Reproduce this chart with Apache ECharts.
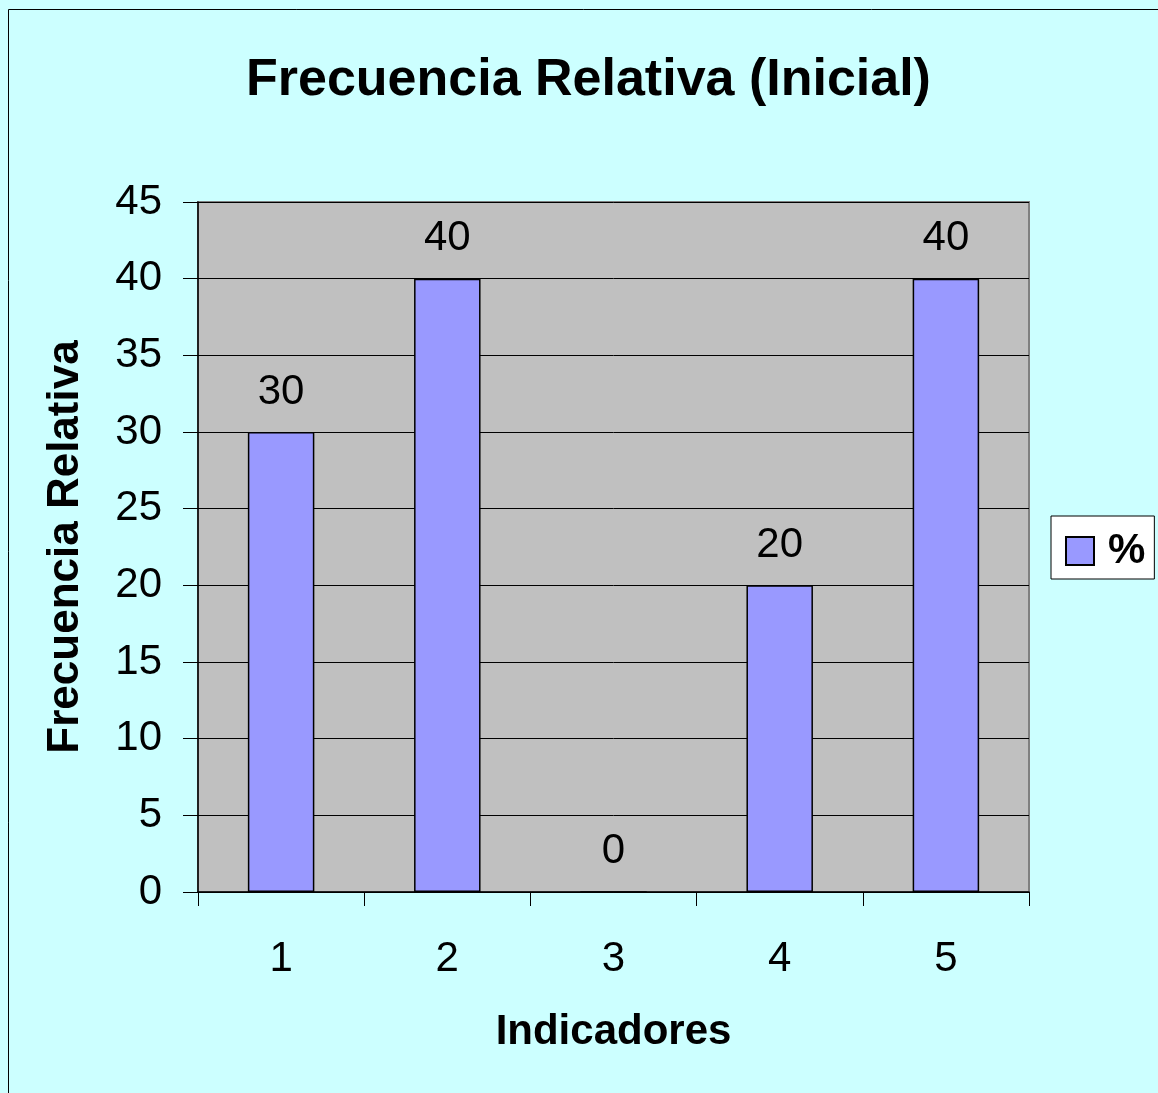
<!DOCTYPE html>
<html>
<head>
<meta charset="utf-8">
<script src="https://cdn.jsdelivr.net/npm/echarts@6/dist/echarts.min.js"></script>
<style>
  html, body { margin: 0; padding: 0; background: #CCFFFF; overflow: hidden; }
  #chart { width: 1158px; height: 1093px; }
</style>
</head>
<body>
<div id="chart"></div>
<script>
const categories = ['1', '2', '3', '4', '5']
const values = [30, 40, 0, 20, 40]
const seriesName = '%'
const titleText = 'Frecuencia Relativa (Inicial)'
const xName = 'Indicadores'
const yName = 'Frecuencia Relativa'

const font = '"Liberation Sans", Arial, sans-serif'

const chart = echarts.init(document.getElementById('chart'))

chart.setOption({
  backgroundColor: '#CCFFFF',
  animation: false,
  title: {
    text: titleText,
    left: 241,
    top: 50,
    textStyle: { fontFamily: font, fontSize: 52, fontWeight: 'bold', color: '#000' },
  },
  // outer chart border (only top/left edges fall inside the picture)
  graphic: [
    {
      type: 'rect',
      shape: { x: 8.5, y: 9.5, width: 1200, height: 1200 },
      style: { fill: 'none', stroke: '#000', lineWidth: 1 },
      silent: true,
    },
  ],
  legend: {
    left: 1051,
    top: 516,
    orient: 'vertical',
    backgroundColor: '#fff',
    borderColor: '#000',
    borderWidth: 1,
    borderRadius: 0,
    padding: [14, 9, 7, 14],
    itemWidth: 28,
    itemHeight: 28,
    icon: 'rect',
    itemStyle: { borderColor: '#000', borderWidth: 2 },
    textStyle: {
      fontFamily: font, fontSize: 42, fontWeight: 'bold', color: '#000',
      padding: [0, 0, 0, 9],
    },
    data: [seriesName],
  },
  grid: {
    left: 198,
    right: 129,
    top: 202,
    bottom: 201,
    show: true,
    backgroundColor: '#C0C0C0',
    borderColor: '#808080',
    borderWidth: 2,
  },
  xAxis: {
    type: 'category',
    data: categories,
    name: xName,
    nameLocation: 'middle',
    nameGap: 119,
    nameTextStyle: { fontFamily: font, fontSize: 42, fontWeight: 'bold', color: '#000', verticalAlign: 'top' },
    axisLine: { lineStyle: { color: '#000', width: 1.5 } },
    axisTick: { show: true, length: 14, lineStyle: { color: '#000', width: 1 } },
    axisLabel: { fontFamily: font, fontSize: 42, color: '#000', margin: 46 },
  },
  yAxis: {
    type: 'value',
    min: 0,
    max: 45,
    interval: 5,
    name: yName,
    nameLocation: 'middle',
    nameGap: 110,
    nameRotate: 90,
    nameTextStyle: { fontFamily: font, fontSize: 44, fontWeight: 'bold', color: '#000' },
    axisLine: { show: true, lineStyle: { color: '#000', width: 1.5 } },
    axisTick: { show: true, length: 15, lineStyle: { color: '#000', width: 1 } },
    axisLabel: { fontFamily: font, fontSize: 42, color: '#000', margin: 36 },
    splitLine: { show: true, lineStyle: { color: '#000', width: 1 } },
  },
  series: [
    {
      name: seriesName,
      type: 'bar',
      data: values,
      barWidth: '40%',
      itemStyle: { color: '#9999FF', borderColor: '#000', borderWidth: 1.5 },
      label: {
        show: true,
        position: 'top',
        distance: 19,
        fontFamily: font,
        fontSize: 42,
        color: '#000',
      },
    },
  ],
})
</script>
</body>
</html>
